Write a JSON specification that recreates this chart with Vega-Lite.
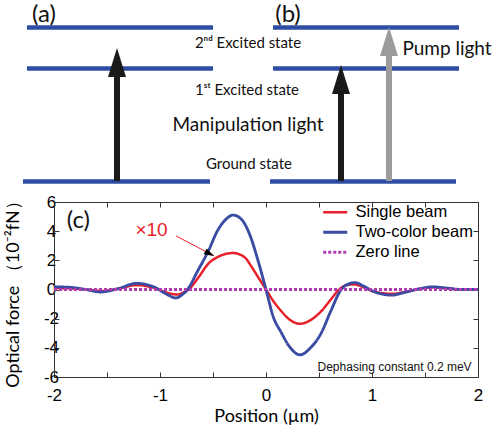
{
  "$schema": "https://vega.github.io/schema/vega-lite/v6.json",
  "padding": {"left": 3, "top": 0, "right": 0, "bottom": 0},
  "bounds": "flush",
  "spacing": 12,
  "config": {"view": {"stroke": "#333", "strokeWidth": 1}, "font": "Liberation Sans"},
  "resolve": {"scale": {"color": "independent", "strokeDash": "independent", "strokeWidth": "independent"}, "legend": {"color": "independent"}},
  "datasets": {
    "levels": [
      {"panel": "a", "state": "second", "x": 26, "x2": 212, "y": 27.5},
      {"panel": "a", "state": "first", "x": 26, "x2": 212, "y": 68.5},
      {"panel": "a", "state": "ground", "x": 22, "x2": 209, "y": 181.5},
      {"panel": "b", "state": "second", "x": 272, "x2": 458, "y": 27.5},
      {"panel": "b", "state": "first", "x": 272, "x2": 458, "y": 68.5},
      {"panel": "b", "state": "ground", "x": 269, "x2": 455, "y": 181.5}
    ],
    "arrows": [
      {"panel": "a", "beam": "Manipulation", "x": 116, "from": 181, "base": 74, "tip": 48},
      {"panel": "b", "beam": "Manipulation", "x": 340, "from": 181, "base": 92, "tip": 65},
      {"panel": "b", "beam": "Pump", "x": 388, "from": 181, "base": 54, "tip": 27}
    ],
    "labels": [
      {"text": "(a)", "x": 43, "y": 14.5, "role": "panel"},
      {"text": "(b)", "x": 287, "y": 14.5, "role": "panel"},
      {"text": "2ⁿᵈ Excited state", "x": 247, "y": 43, "role": "state"},
      {"text": "1ˢᵗ Excited state", "x": 246, "y": 90, "role": "state"},
      {"text": "Manipulation light", "x": 247, "y": 125, "role": "light"},
      {"text": "Ground state", "x": 248, "y": 164, "role": "state"},
      {"text": "Pump light", "x": 446, "y": 49, "role": "light"}
    ],
    "curves": [
      {"series": "Single beam", "x": -2.0, "y": 0.1},
      {"series": "Single beam", "x": -1.85, "y": 0.08},
      {"series": "Single beam", "x": -1.7, "y": 0.0},
      {"series": "Single beam", "x": -1.55, "y": -0.1},
      {"series": "Single beam", "x": -1.4, "y": 0.05},
      {"series": "Single beam", "x": -1.22, "y": 0.3},
      {"series": "Single beam", "x": -1.05, "y": 0.1},
      {"series": "Single beam", "x": -0.92, "y": -0.25},
      {"series": "Single beam", "x": -0.83, "y": -0.35},
      {"series": "Single beam", "x": -0.78, "y": -0.2},
      {"series": "Single beam", "x": -0.73, "y": 0.0},
      {"series": "Single beam", "x": -0.65, "y": 0.7},
      {"series": "Single beam", "x": -0.54, "y": 1.8},
      {"series": "Single beam", "x": -0.45, "y": 2.25},
      {"series": "Single beam", "x": -0.31, "y": 2.5},
      {"series": "Single beam", "x": -0.2, "y": 2.2},
      {"series": "Single beam", "x": -0.14, "y": 1.6},
      {"series": "Single beam", "x": -0.07, "y": 0.8},
      {"series": "Single beam", "x": 0.0, "y": 0.0},
      {"series": "Single beam", "x": 0.07, "y": -0.8},
      {"series": "Single beam", "x": 0.14, "y": -1.45},
      {"series": "Single beam", "x": 0.22, "y": -2.05},
      {"series": "Single beam", "x": 0.32, "y": -2.35},
      {"series": "Single beam", "x": 0.42, "y": -2.1},
      {"series": "Single beam", "x": 0.52, "y": -1.5},
      {"series": "Single beam", "x": 0.61, "y": -0.7},
      {"series": "Single beam", "x": 0.69, "y": 0.0},
      {"series": "Single beam", "x": 0.76, "y": 0.3},
      {"series": "Single beam", "x": 0.83, "y": 0.35},
      {"series": "Single beam", "x": 0.92, "y": 0.15},
      {"series": "Single beam", "x": 1.0, "y": -0.1},
      {"series": "Single beam", "x": 1.1, "y": -0.25},
      {"series": "Single beam", "x": 1.19, "y": -0.3},
      {"series": "Single beam", "x": 1.3, "y": -0.18},
      {"series": "Single beam", "x": 1.45, "y": 0.05},
      {"series": "Single beam", "x": 1.57, "y": 0.15},
      {"series": "Single beam", "x": 1.7, "y": 0.08},
      {"series": "Single beam", "x": 1.85, "y": 0.0},
      {"series": "Single beam", "x": 2.0, "y": 0.0},
      {"series": "Two-color beam", "x": -2.0, "y": 0.18},
      {"series": "Two-color beam", "x": -1.85, "y": 0.15},
      {"series": "Two-color beam", "x": -1.7, "y": 0.0},
      {"series": "Two-color beam", "x": -1.56, "y": -0.17},
      {"series": "Two-color beam", "x": -1.4, "y": 0.05},
      {"series": "Two-color beam", "x": -1.22, "y": 0.42},
      {"series": "Two-color beam", "x": -1.05, "y": 0.15},
      {"series": "Two-color beam", "x": -0.93, "y": -0.35},
      {"series": "Two-color beam", "x": -0.85, "y": -0.58},
      {"series": "Two-color beam", "x": -0.79, "y": -0.35},
      {"series": "Two-color beam", "x": -0.74, "y": 0.0},
      {"series": "Two-color beam", "x": -0.65, "y": 1.2},
      {"series": "Two-color beam", "x": -0.54, "y": 2.7},
      {"series": "Two-color beam", "x": -0.46, "y": 4.0},
      {"series": "Two-color beam", "x": -0.38, "y": 4.8},
      {"series": "Two-color beam", "x": -0.31, "y": 5.1},
      {"series": "Two-color beam", "x": -0.23, "y": 4.8},
      {"series": "Two-color beam", "x": -0.15, "y": 3.7},
      {"series": "Two-color beam", "x": -0.08, "y": 2.1},
      {"series": "Two-color beam", "x": 0.0, "y": 0.0},
      {"series": "Two-color beam", "x": 0.07, "y": -1.9},
      {"series": "Two-color beam", "x": 0.14, "y": -2.9},
      {"series": "Two-color beam", "x": 0.22, "y": -3.9},
      {"series": "Two-color beam", "x": 0.32, "y": -4.48},
      {"series": "Two-color beam", "x": 0.42, "y": -4.0},
      {"series": "Two-color beam", "x": 0.52, "y": -3.0},
      {"series": "Two-color beam", "x": 0.61, "y": -1.5},
      {"series": "Two-color beam", "x": 0.71, "y": 0.0},
      {"series": "Two-color beam", "x": 0.77, "y": 0.35},
      {"series": "Two-color beam", "x": 0.84, "y": 0.47},
      {"series": "Two-color beam", "x": 0.93, "y": 0.2},
      {"series": "Two-color beam", "x": 1.02, "y": -0.15},
      {"series": "Two-color beam", "x": 1.1, "y": -0.32},
      {"series": "Two-color beam", "x": 1.19, "y": -0.39},
      {"series": "Two-color beam", "x": 1.3, "y": -0.22},
      {"series": "Two-color beam", "x": 1.45, "y": 0.05},
      {"series": "Two-color beam", "x": 1.57, "y": 0.18},
      {"series": "Two-color beam", "x": 1.7, "y": 0.1},
      {"series": "Two-color beam", "x": 1.85, "y": 0.0},
      {"series": "Two-color beam", "x": 2.0, "y": 0.0},
      {"series": "Zero line", "x": -2.0, "y": 0.0},
      {"series": "Zero line", "x": 2.0, "y": 0.0}
    ],
    "pointer": [{"x": -0.85, "y": 3.68, "x2": -0.49, "y2": 2.3}],
    "notes": [
      {"text": "(c)", "x": -1.77, "y": 4.7, "role": "panel"},
      {"text": "×10", "x": -1.08, "y": 4.07, "role": "factor"},
      {"text": "Dephasing constant 0.2 meV", "x": 1.94, "y": -5.34, "role": "note"}
    ]
  },
  "vconcat": [
    {
      "width": 424,
      "height": 190,
      "view": {"stroke": null},
      "layer": [
        {
          "data": {"name": "levels"},
          "mark": {"type": "rule", "strokeWidth": 4.5, "color": "#2E4CA3"},
          "encoding": {
            "x": {"field": "x", "type": "quantitative", "scale": {"domain": [53, 477], "nice": false, "zero": false}, "axis": null},
            "x2": {"field": "x2"},
            "y": {"field": "y", "type": "quantitative", "scale": {"domain": [190, 0], "nice": false, "zero": false}, "axis": null}
          }
        },
        {
          "data": {"name": "arrows"},
          "mark": {"type": "rule", "strokeWidth": 6},
          "encoding": {
            "x": {"field": "x", "type": "quantitative"},
            "y": {"field": "from", "type": "quantitative"},
            "y2": {"field": "base"},
            "color": {"field": "beam", "type": "nominal", "scale": {"domain": ["Manipulation", "Pump"], "range": ["#1a1a1a", "#9b9b9b"]}, "legend": null}
          }
        },
        {
          "data": {"name": "arrows"},
          "mark": {"type": "point", "filled": true, "opacity": 1, "shape": "M0,0L0.62,2L-0.62,2Z", "size": 841, "strokeWidth": 0},
          "encoding": {
            "x": {"field": "x", "type": "quantitative"},
            "y": {"field": "tip", "type": "quantitative"},
            "color": {"field": "beam", "type": "nominal", "legend": null}
          }
        },
        {
          "data": {"name": "labels"},
          "transform": [{"filter": "datum.role === 'panel'"}],
          "mark": {"type": "text", "font": "Lato", "fontSize": 24, "baseline": "middle", "align": "center", "color": "#111"},
          "encoding": {
            "x": {"field": "x", "type": "quantitative"},
            "y": {"field": "y", "type": "quantitative"},
            "text": {"field": "text"}
          }
        },
        {
          "data": {"name": "labels"},
          "transform": [{"filter": "datum.role === 'state'"}],
          "mark": {"type": "text", "font": "Lato", "fontSize": 15, "baseline": "middle", "align": "center", "color": "#111"},
          "encoding": {
            "x": {"field": "x", "type": "quantitative"},
            "y": {"field": "y", "type": "quantitative"},
            "text": {"field": "text"}
          }
        },
        {
          "data": {"name": "labels"},
          "transform": [{"filter": "datum.role === 'light'"}],
          "mark": {"type": "text", "font": "Lato", "fontSize": 19, "baseline": "middle", "align": "center", "color": "#111"},
          "encoding": {
            "x": {"field": "x", "type": "quantitative"},
            "y": {"field": "y", "type": "quantitative"},
            "text": {"field": "text"}
          }
        }
      ]
    },
    {
      "width": 424,
      "height": 175,
      "layer": [
        {
          "data": {"name": "curves"},
          "mark": {"type": "line", "interpolate": "monotone"},
          "encoding": {
            "x": {"field": "x", "type": "quantitative", "scale": {"domain": [-2, 2], "nice": false},
              "axis": {"orient": "bottom", "values": [-2, -1.5, -1, -0.5, 0, 0.5, 1, 1.5, 2], "labelExpr": "datum.value % 1 === 0 ? '' + datum.value : ''", "tickSize": -5, "labelPadding": 15, "labelFont": "Liberation Sans", "labelFontSize": 17, "labelColor": "#000", "labelFlush": false, "labelOverlap": false, "domainColor": "#333", "tickColor": "#333", "grid": false, "title": "Position (µm)", "titleFont": "Lato", "titleFontSize": 18, "titleFontWeight": "normal", "titleColor": "#000", "titlePadding": 4}},
            "y": {"field": "y", "type": "quantitative", "scale": {"domain": [-6, 6], "nice": false},
              "axis": {"orient": "left", "values": [-6, -4, -2, 0, 2, 4, 6], "labelExpr": "'' + datum.value", "labelAlign": "center", "tickSize": -5, "labelPadding": 8, "labelFont": "Liberation Sans", "labelFontSize": 17, "labelColor": "#000", "domainColor": "#333", "tickColor": "#333", "grid": false, "title": "Optical force （10⁻²fN）", "titleFont": "Lato", "titleFontSize": 18, "titleFontWeight": "normal", "titleColor": "#000", "titlePadding": 21}},
            "color": {"field": "series", "type": "nominal", "scale": {"domain": ["Single beam", "Two-color beam", "Zero line"], "range": ["#E8202A", "#3A4BA3", "#B03CB0"]},
              "legend": {"orient": "none", "legendX": 273, "legendY": 2, "title": null, "symbolType": "M-2,0L2,0", "symbolSize": 144, "symbolStrokeWidth": 3, "labelFont": "Liberation Sans", "labelFontSize": 16.5, "labelColor": "#000", "labelOffset": 12, "padding": 0, "rowPadding": 3}},
            "strokeDash": {"field": "series", "type": "nominal", "scale": {"domain": ["Single beam", "Two-color beam", "Zero line"], "range": [[1, 0], [1, 0], [3, 2]]},
              "legend": {"orient": "none", "legendX": 273, "legendY": 2, "title": null, "symbolType": "M-2,0L2,0", "symbolSize": 144, "symbolStrokeWidth": 3, "labelFont": "Liberation Sans", "labelFontSize": 16.5, "labelColor": "#000", "labelOffset": 12, "padding": 0, "rowPadding": 3}},
            "strokeWidth": {"field": "series", "type": "nominal", "scale": {"domain": ["Single beam", "Two-color beam", "Zero line"], "range": [2.5, 3.2, 3]}, "legend": null}
          }
        },
        {
          "data": {"name": "pointer"},
          "mark": {"type": "rule", "color": "#E8202A", "strokeWidth": 1},
          "encoding": {
            "x": {"field": "x", "type": "quantitative", "axis": null},
            "y": {"field": "y", "type": "quantitative", "axis": null},
            "x2": {"field": "x2"},
            "y2": {"field": "y2"}
          }
        },
        {
          "data": {"name": "pointer"},
          "mark": {"type": "point", "filled": true, "opacity": 1, "color": "#000", "shape": "M0,0L-2,-0.65L-2,0.65Z", "size": 100, "angle": 27.6, "strokeWidth": 0},
          "encoding": {
            "x": {"field": "x2", "type": "quantitative", "axis": null},
            "y": {"field": "y2", "type": "quantitative", "axis": null}
          }
        },
        {
          "data": {"name": "notes"},
          "transform": [{"filter": "datum.role === 'panel'"}],
          "mark": {"type": "text", "font": "Lato", "fontSize": 24, "baseline": "middle", "align": "center", "color": "#111"},
          "encoding": {
            "x": {"field": "x", "type": "quantitative", "axis": {"orient": "top", "values": [-2, -1.5, -1, -0.5, 0, 0.5, 1, 1.5, 2], "labels": false, "tickSize": -5, "domainColor": "#333", "tickColor": "#333", "grid": false, "title": null}},
            "y": {"field": "y", "type": "quantitative", "axis": {"orient": "right", "values": [-6, -4, -2, 0, 2, 4, 6], "labels": false, "tickSize": -5, "domainColor": "#333", "tickColor": "#333", "grid": false, "title": null}},
            "text": {"field": "text"}
          }
        },
        {
          "data": {"name": "notes"},
          "transform": [{"filter": "datum.role === 'factor'"}],
          "mark": {"type": "text", "font": "Liberation Sans", "fontSize": 19, "baseline": "middle", "align": "center", "color": "#E8202A"},
          "encoding": {
            "x": {"field": "x", "type": "quantitative", "axis": null},
            "y": {"field": "y", "type": "quantitative", "axis": null},
            "text": {"field": "text"}
          }
        },
        {
          "data": {"name": "notes"},
          "transform": [{"filter": "datum.role === 'note'"}],
          "mark": {"type": "text", "font": "Liberation Sans", "fontSize": 12, "baseline": "middle", "align": "right", "color": "#111"},
          "encoding": {
            "x": {"field": "x", "type": "quantitative", "axis": null},
            "y": {"field": "y", "type": "quantitative", "axis": null},
            "text": {"field": "text"}
          }
        }
      ],
      "resolve": {"axis": {"x": "independent", "y": "independent"}}
    }
  ]
}
